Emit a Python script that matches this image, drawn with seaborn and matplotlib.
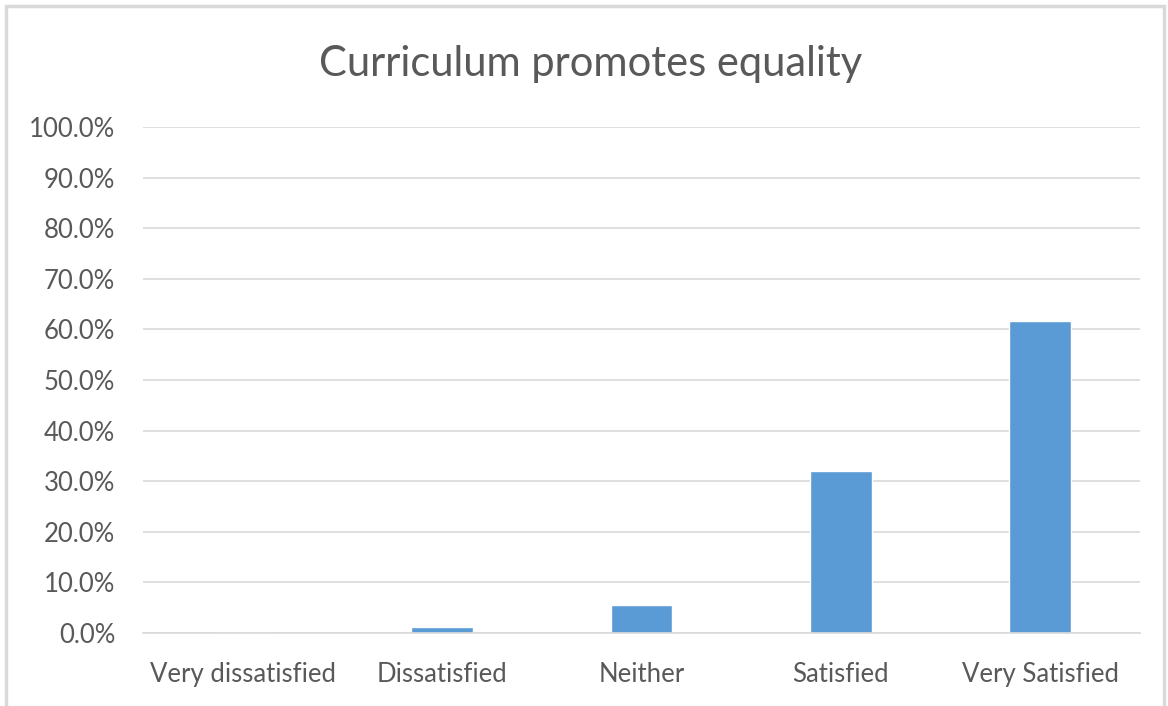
import matplotlib
matplotlib.use("Agg")
import matplotlib.pyplot as plt
import seaborn as sns
import pandas as pd
from matplotlib.ticker import PercentFormatter, MultipleLocator
from matplotlib.patches import Rectangle

## survey answers and share of respondents
categories = ["Very dissatisfied", "Dissatisfied", "Neither", "Satisfied", "Very Satisfied"]
shares = [0.0, 0.011, 0.055, 0.321, 0.616]

df = pd.DataFrame({"answer": categories, "share": shares})

sns.set_style("white")
plt.rcParams["font.family"] = ["Lato", "DejaVu Sans"]

text_grey = "#595959"

fig = plt.figure(figsize=(11.68, 7.06), dpi=100)
ax = fig.add_axes([0.1224, 0.1034, 0.976 - 0.1224, 0.820 - 0.1034])

sns.barplot(data=df, x="answer", y="share", color="#5b9bd5", saturation=1,
            width=0.31, ax=ax)

ax.set_ylim(0, 1.0)
ax.yaxis.set_major_locator(MultipleLocator(0.1))
ax.yaxis.set_major_formatter(PercentFormatter(1.0, decimals=1))
ax.grid(axis="y", color="#d9d9d9", linewidth=1.2)
ax.set_axisbelow(True)
for s in ["top", "right", "left"]:
    ax.spines[s].set_visible(False)
ax.spines["bottom"].set_color("#d9d9d9")
ax.spines["bottom"].set_linewidth(1.2)

ax.set_xlabel("")
ax.set_ylabel("")
ax.tick_params(axis="both", length=0, labelsize=18.5, colors=text_grey)
ax.tick_params(axis="y", pad=20)
ax.tick_params(axis="x", pad=21)

fig.text(0.506, 0.91, "Curriculum promotes equality", ha="center", va="center",
         fontsize=30, color=text_grey)

# chart frame
fig.patches.append(Rectangle((6 / 1168, -0.01), 1158 / 1168, 1 - 6 / 706 + 0.01,
                             transform=fig.transFigure, fill=False,
                             edgecolor="#d9d9d9", linewidth=2.5))

fig.savefig("out.png", dpi=100)
